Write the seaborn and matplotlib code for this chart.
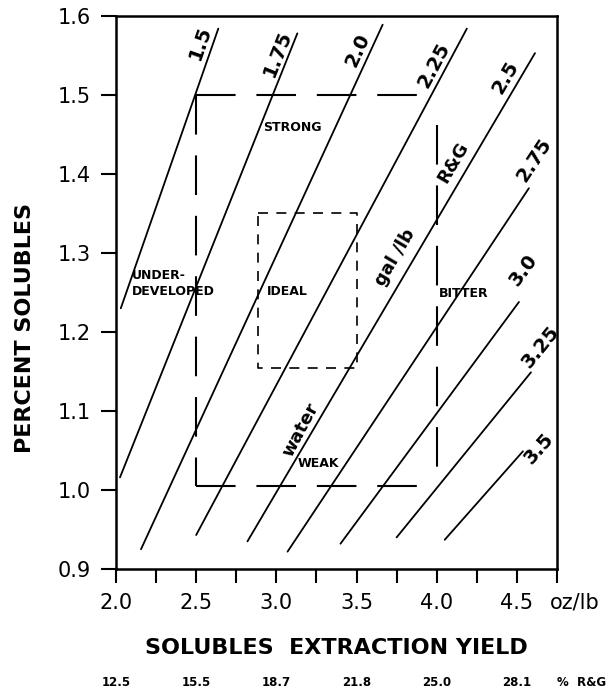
import numpy as np
import pandas as pd
import matplotlib
matplotlib.use('Agg')
import matplotlib.pyplot as plt
import seaborn as sns

# brew ratio lines (gal/lb): end points
ratios = ['1.5', '1.75', '2.0', '2.25', '2.5', '2.75', '3.0', '3.25', '3.5']
x_start = [2.03, 2.025, 2.156, 2.50, 2.82, 3.07, 3.40, 3.75, 4.05]
y_start = [1.230, 1.016, 0.925, 0.943, 0.935, 0.922, 0.932, 0.940, 0.937]
x_end = [2.638, 3.131, 3.663, 4.188, 4.613, 4.575, 4.513, 4.588, 4.538]
y_end = [1.584, 1.578, 1.589, 1.584, 1.553, 1.382, 1.238, 1.149, 1.049]
label_x = [2.525, 3.006, 3.506, 3.981, 4.431, 4.606, 4.544, 4.650, 4.638]
label_y = [1.566, 1.553, 1.557, 1.538, 1.522, 1.418, 1.278, 1.181, 1.053]

# percent R&G scale under the x axis
pct_pos = [2.0, 2.5, 3.0, 3.5, 4.0, 4.5]
pct_labels = ['12.5', '15.5', '18.7', '21.8', '25.0', '28.1']

# region names
regions = ['STRONG', 'UNDER-\nDEVELOPED', 'IDEAL', 'BITTER', 'WEAK']
region_x = [3.10, 2.10, 2.944, 4.17, 3.2625]
region_y = [1.459, 1.262, 1.251, 1.249, 1.034]
region_ha = ['center', 'left', 'left', 'center', 'center']

# outer (acceptable) box and inner (ideal) box
outer_x = [2.5, 4.0]
outer_y = [1.005, 1.5]
inner_x = [2.8875, 3.5]
inner_y = [1.1544, 1.3506]

df = pd.DataFrame({
    'ratio': ratios * 2,
    'yield': x_start + x_end,
    'solubles': y_start + y_end,
})

sns.set_style('white')
plt.rcParams['font.family'] = ['DejaVu Sans']
plt.rcParams['text.color'] = 'black'
plt.rcParams['axes.labelcolor'] = 'black'
plt.rcParams['xtick.color'] = 'black'
plt.rcParams['ytick.color'] = 'black'

fig = plt.figure(figsize=(6.14, 6.95), dpi=100)
ax = fig.add_axes([0.1889, 0.1813, 0.7182, 0.7957])

sns.lineplot(data=df, x='yield', y='solubles', units='ratio', estimator=None,
             color='black', linewidth=1.3, ax=ax, legend=False)

ax.set_xlim(2.0, 4.75)
ax.set_ylim(0.9, 1.6)

# curve labels, rotated along each line
for r, x0, y0, x1, y1, lx, ly in zip(ratios, x_start, y_start, x_end, y_end, label_x, label_y):
    ang = np.degrees(np.arctan2(y1 - y0, x1 - x0))
    ax.text(lx, ly, r, rotation=ang, transform_rotates_text=True,
            rotation_mode='anchor', ha='center', va='center',
            fontsize=14, fontweight='bold', clip_on=False)

# dashed boxes
dash_long = (0, (19, 10))
ax.plot([outer_x[0], 3.95], [outer_y[1], outer_y[1]], color='black', lw=1.5, ls=dash_long)
ax.plot([outer_x[0], outer_x[0]], [outer_y[1], outer_y[0]], color='black', lw=1.5, ls=dash_long)
ax.plot([outer_x[0], outer_x[1]], [outer_y[0], outer_y[0]], color='black', lw=1.5, ls=dash_long)
ax.plot([outer_x[1], outer_x[1]], [1.462, outer_y[0]], color='black', lw=1.5, ls=dash_long)

dash_short = (0, (6, 5))
ax.plot([inner_x[0], inner_x[1], inner_x[1], inner_x[0], inner_x[0]],
        [inner_y[1], inner_y[1], inner_y[0], inner_y[0], inner_y[1]],
        color='black', lw=1.2, ls=dash_short)

for txt, x, y, ha in zip(regions, region_x, region_y, region_ha):
    ax.text(x, y, txt, ha=ha, va='center', fontsize=9, fontweight='bold',
            linespacing=1.3)

# rotated annotations on the 2.25 / 2.5 lines
ang225 = np.degrees(np.arctan2(y_end[3] - y_start[3], x_end[3] - x_start[3]))
ang25 = np.degrees(np.arctan2(y_end[4] - y_start[4], x_end[4] - x_start[4]))
ax.text(3.15, 1.076, 'water', rotation=ang225, transform_rotates_text=True,
        rotation_mode='anchor', ha='center', va='center', fontsize=13, fontweight='bold')
ax.text(3.744, 1.295, 'gal /lb', rotation=ang25, transform_rotates_text=True,
        rotation_mode='anchor', ha='center', va='center', fontsize=13, fontweight='bold')
ax.text(4.106, 1.415, 'R&G', rotation=ang25, transform_rotates_text=True,
        rotation_mode='anchor', ha='center', va='center', fontsize=13, fontweight='bold')

# axes styling
xt = np.arange(2.0, 4.76, 0.25)
ax.set_xticks(xt)
ax.set_xticklabels(['%.1f' % v if abs(v * 2 - round(v * 2)) < 1e-6 and v < 4.6 else '' for v in xt])
ax.set_yticks(np.arange(0.9, 1.61, 0.1))
ax.set_yticklabels(['%.1f' % v for v in np.arange(0.9, 1.61, 0.1)])
ax.tick_params(axis='x', direction='out', length=10, width=1.5, pad=7, labelsize=15, bottom=True)
ax.tick_params(axis='y', direction='out', length=11, width=1.5, pad=7, labelsize=15, left=True)
for s in ax.spines.values():
    s.set_linewidth(1.8)
    s.set_color('black')

ax.set_xlabel('SOLUBLES  EXTRACTION YIELD', fontsize=16, fontweight='bold')
ax.xaxis.label.set_va('center')
ax.xaxis.set_label_coords(0.5, -0.143)
ax.set_ylabel('PERCENT SOLUBLES', fontsize=16, fontweight='bold')
ax.yaxis.label.set_va('center')
ax.yaxis.set_label_coords(-0.206, 0.436)

ax.annotate('oz/lb', xy=(1.041, -0.061), xycoords='axes fraction',
            ha='center', va='center', fontsize=15)

for p, lab in zip(pct_pos, pct_labels):
    ax.annotate(lab, xy=(p, -0.206), xycoords=('data', 'axes fraction'),
                ha='center', va='center', fontsize=8.5, fontweight='bold')
ax.annotate('%  R&G', xy=(1.056, -0.206), xycoords='axes fraction',
            ha='center', va='center', fontsize=8.5, fontweight='bold')

fig.savefig('out.png', dpi=100)
